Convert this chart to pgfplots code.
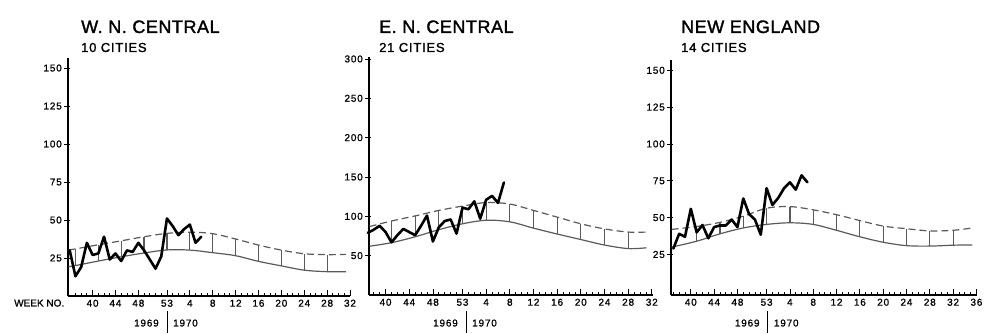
\documentclass[border=0pt]{standalone}
\usepackage{fontspec}
\setmainfont{Liberation Sans}
\newfontfamily\tickfont[LetterSpace=8,FakeBold=1]{Liberation Sans}
\newfontfamily\titlefont[LetterSpace=3,FakeBold=1.6]{Liberation Sans}
\newfontfamily\subfont[LetterSpace=6,FakeBold=1.3]{Liberation Sans}
\newfontfamily\weekfont[FakeBold=1]{Liberation Sans}
\usepackage{pgfplots}
\pgfplotsset{compat=1.18}
\usepackage{pgfplotstable}

\definecolor{cur}{RGB}{90,90,90}

% observed deaths (weekly)
\pgfplotstableread{
w v
36 30
37 13
38 19
39 35
40 27
41 28
42 39
43 24
44 28
45 23
46 30
47 29
48 35
49 30
50 24
51 18
52 26
53 51
54 46
55 40
56 44
57 47
58 35
59 39
}\obsA
\pgfplotstableread{
w v
37 79
38 83
39 88
40 80
41 67
42 76
43 84
44 80
45 76
46 88
47 101
48 68
49 86
50 94
51 96
52 78
53 111
54 109
55 119
56 97
57 121
58 126
59 117
60 143
}\obsB
\pgfplotstableread{
w v
37 29
38 39
39 37
40 56
41 40
42 45
43 36
44 43.6
45 44.7
46 44.7
47 48.7
48 43.6
49 63
50 52.4
51 48.7
52 38.4
53 70
54 58.6
55 63.4
56 70
57 74
58 69
59 78.7
60 74
}\obsC
% expected (lo) and epidemic threshold (hi)
\pgfplotstableread{
w lo hi
35.8 19.3 30.3
37 20 31
41 23 33.7
45 25.8 36.3
49 28.3 39
53 30.3 41.2
57 30.2 42
61 28.5 41
65 26.5 37.5
69 22.8 33.5
73 19.8 30.2
77 17 27.8
81 16 27.2
84.3 16 27.4
}\curA
\pgfplotstableread{
w lo hi
37.3 62 87
41 66.5 94
45 74 100.5
49 83 107.5
53 90.5 113
57 95 117.5
61 93 115.6
65 85 107.5
69 77.5 99
73 70.5 90.5
77 63.5 84
81 59 80
84.1 60 80
}\curB
\pgfplotstableread{
w lo hi
36.7 30 42
41 34 44
45 39 46.8
49 43 51
53 45.4 56.4
57 46.5 57.5
61 45.4 55.3
65 41.4 52
69 37 48
73 33.3 44.3
77 31 42.5
81 30.7 41
85 31.3 41.4
88.3 31.5 43
}\curC

\pgfplotsset{
  wk/.style={
    scale only axis, anchor=south west,
    axis x line=bottom, axis y line=left,
    axis line style={-, line width=1.4pt, black},
    tick align=inside,
    xtick={40,44,48,53,57,61,65,69,73,77,81,85,89},
    xticklabels={40,44,48,53,4,8,12,16,20,24,28,32,36},
    minor xtick={37,38,...,89},
    major tick length=5.5pt, minor tick length=3pt,
    every tick/.style={black, line width=0.8pt},
    every y tick/.append style={xshift=-4pt},
    ticklabel style={font={\tickfont\fontsize{10}{12}\selectfont}},
    xticklabel style={anchor=north, inner sep=0pt, text height=7pt, text depth=0pt, yshift=-3.5pt},
    yticklabel style={anchor=east, inner sep=0pt, xshift=-6pt},
    /pgf/number format/assume math mode=true,
    clip=false,
  },
  obs/.style={black, line width=2.6pt, line join=round, line cap=round, mark=none},
  hic/.style={cur, line width=1.2pt, smooth, tension=0.55, dash pattern=on 7pt off 4pt, mark=none},
  loc/.style={cur, line width=1.2pt, smooth, tension=0.55, mark=none},
  bars/.style={draw=none, mark=none, forget plot,
    error bars/.cd, y dir=plus, y explicit, error mark=none,
    error bar style={draw=cur, solid, line width=1.2pt}},
}

\begin{document}
\begin{tikzpicture}
\path (0,0) rectangle (986pt,334pt);

% ---------- W. N. CENTRAL ----------
\begin{axis}[wk, at={(68pt,38pt)}, width=282pt, height=238pt,
  xmin=35.7, xmax=85, ymin=0, ymax=156.6, ytick={25,50,75,100,125,150}]
\addplot[loc] table[x=w,y=lo]{\curA};
\addplot[hic] table[x=w,y=hi]{\curA};
\addplot[skip coords between index={0}{1}, skip coords between index={13}{14}, bars]
  table[x=w, y=lo, y error expr=\thisrow{hi}-\thisrow{lo}]{\curA};
\addplot[obs] table[x=w,y=v]{\obsA};
\coordinate (d1) at (axis cs:53,0);
\end{axis}

% ---------- E. N. CENTRAL ----------
\begin{axis}[wk, at={(369pt,39pt)}, width=284pt, height=238pt,
  xmin=37.2, xmax=85.2, ymin=0, ymax=302.5, ytick={50,100,150,200,250,300}]
\addplot[loc] table[x=w,y=lo]{\curB};
\addplot[hic] table[x=w,y=hi]{\curB};
\addplot[skip coords between index={0}{1}, skip coords between index={12}{13}, bars]
  table[x=w, y=lo, y error expr=\thisrow{hi}-\thisrow{lo}]{\curB};
\addplot[obs] table[x=w,y=v]{\obsB};
\coordinate (d2) at (axis cs:53.6,0);
\end{axis}

% ---------- NEW ENGLAND ----------
\begin{axis}[wk, at={(671pt,39pt)}, width=306pt, height=235pt,
  xmin=36.6, xmax=89.1, ymin=-2.5, ymax=157, ytick={25,50,75,100,125,150}]
\addplot[loc] table[x=w,y=lo]{\curC};
\addplot[hic] table[x=w,y=hi]{\curC};
\addplot[skip coords between index={0}{1}, skip coords between index={13}{14}, bars]
  table[x=w, y=lo, y error expr=\thisrow{hi}-\thisrow{lo}]{\curC};
\addplot[obs] table[x=w,y=v]{\obsC};
\coordinate (d3) at (axis cs:53.2,0);
\end{axis}

% titles
\node[anchor=base west, inner sep=0pt, font={\titlefont\fontsize{18}{20}\selectfont}] at (81pt,301pt) {W. N. CENTRAL};
\node[anchor=base west, inner sep=0pt, font={\subfont\fontsize{13}{15}\selectfont}] at (81pt,282pt) {10 CITIES};
\node[anchor=base west, inner sep=0pt, font={\titlefont\fontsize{18}{20}\selectfont}] at (379pt,301pt) {E. N. CENTRAL};
\node[anchor=base west, inner sep=0pt, font={\subfont\fontsize{13}{15}\selectfont}] at (379pt,282pt) {21 CITIES};
\node[anchor=base west, inner sep=0pt, font={\titlefont\fontsize{18}{20}\selectfont}] at (681pt,301pt) {NEW ENGLAND};
\node[anchor=base west, inner sep=0pt, font={\subfont\fontsize{13}{15}\selectfont}] at (681pt,282pt) {14 CITIES};

\node[anchor=base west, inner sep=0pt, font={\weekfont\fontsize{10}{12}\selectfont}] at (14pt,27.5pt) {WEEK NO.};

% year dividers
\foreach \d in {d1,d2,d3}{
  \draw[line width=0.9pt] (\d |- 0,1pt) -- (\d |- 0,23pt);
  \path (\d |- 0,7.5pt) node[anchor=base east, inner sep=0pt, xshift=-8pt, font={\tickfont\fontsize{10}{12}\selectfont}] {1969};
  \path (\d |- 0,7.5pt) node[anchor=base west, inner sep=0pt, xshift=6pt, font={\tickfont\fontsize{10}{12}\selectfont}] {1970};
}
\end{tikzpicture}
\end{document}
